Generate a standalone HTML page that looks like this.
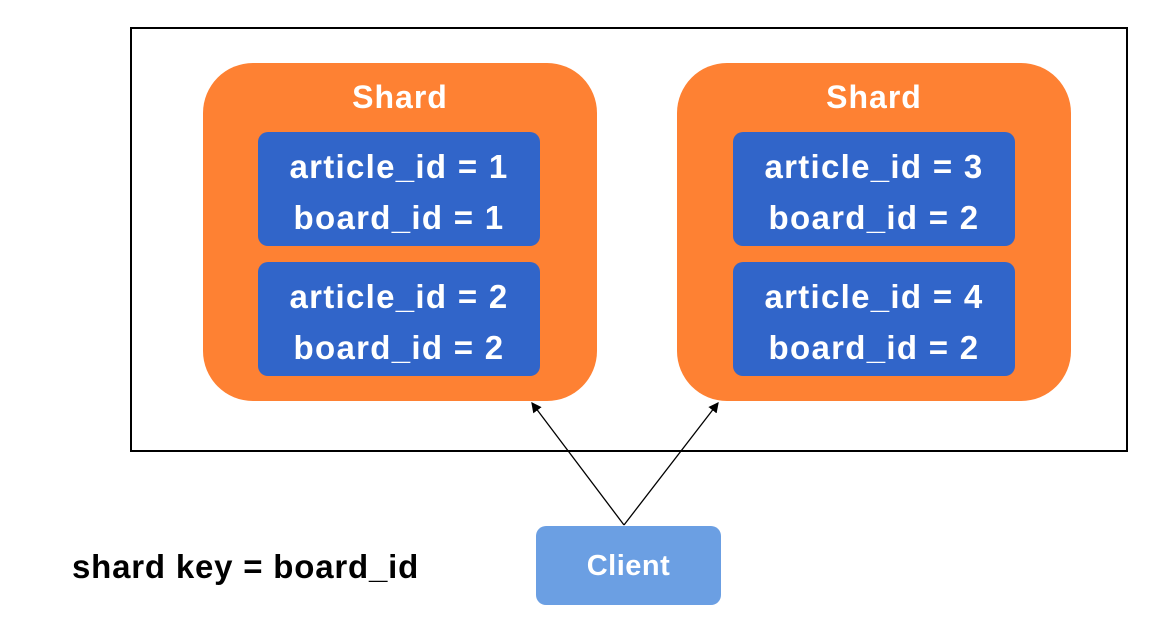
<!DOCTYPE html>
<html><head><style>
body{margin:0;width:1159px;height:632px;background:#fff;position:relative;font-family:"Liberation Sans",sans-serif;font-weight:bold;overflow:hidden}
.a{position:absolute;box-sizing:border-box}
.frame{left:130px;top:27px;width:998px;height:425px;border:2px solid #000}
.shard{background:#fe8133;border-radius:50px;width:394px;height:338px;top:63px}
.t{color:#fff;text-align:center;font-size:32px;letter-spacing:1px}
.blue{background:#3165c9;border-radius:10px;width:282px;height:114px;color:#fff;text-align:center;font-size:33px;letter-spacing:1.3px;line-height:51px;padding-top:9px;white-space:nowrap}
</style></head><body>
<div class="a frame"></div>
<div class="a shard" style="left:203px"></div>
<div class="a shard" style="left:677px"></div>
<div class="a t" style="left:203px;width:394px;top:79px">Shard</div>
<div class="a t" style="left:677px;width:394px;top:79px">Shard</div>
<div class="a blue" style="left:258px;top:132px">article_id = 1<br>board_id = 1</div>
<div class="a blue" style="left:258px;top:262px">article_id = 2<br>board_id = 2</div>
<div class="a blue" style="left:733px;top:132px">article_id = 3<br>board_id = 2</div>
<div class="a blue" style="left:733px;top:262px">article_id = 4<br>board_id = 2</div>
<div class="a" style="left:536px;top:526px;width:185px;height:79px;background:#6b9fe3;border-radius:10px;color:#fff;font-size:29px;letter-spacing:0.5px;text-align:center;line-height:81px">Client</div>
<div class="a" style="left:72px;top:548px;font-size:33px;letter-spacing:0.8px;color:#000;white-space:nowrap">shard key = board_id</div>
<svg class="a" style="left:0;top:0" width="1159" height="632">
<defs><marker id="m" markerWidth="8" markerHeight="8" refX="7" refY="4" orient="auto"><path d="M0,0L8,4L0,8z" fill="#000"/></marker></defs>
<line x1="624" y1="525" x2="532" y2="403" stroke="#000" stroke-width="1.3" marker-end="url(#m)"/>
<line x1="624" y1="525" x2="718" y2="403" stroke="#000" stroke-width="1.3" marker-end="url(#m)"/>
</svg>
</body></html>
